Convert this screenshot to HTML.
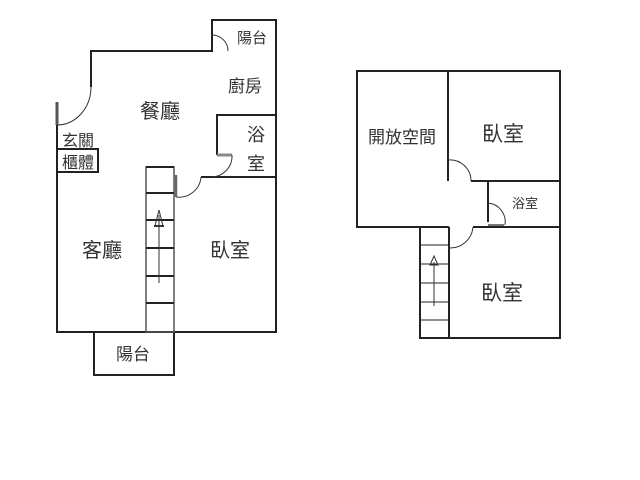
<!DOCTYPE html>
<html><head><meta charset="utf-8"><style>
html,body{margin:0;padding:0;background:#fff;width:640px;height:480px;overflow:hidden}
text{font-family:"Liberation Sans","Noto Sans CJK TC",sans-serif;fill:#333}
</style></head><body>
<svg width="640" height="480" viewBox="0 0 640 480" xmlns="http://www.w3.org/2000/svg">
<g fill="none" stroke="#222" stroke-width="2">
<!-- left plan outer -->
<polyline points="91,87 91,51 212,51 212,20 276,20 276,332 57,332 57,102"/>
<line x1="57" y1="102" x2="57" y2="125" stroke="#555" stroke-width="3"/>
<!-- bath -->
<polyline points="217,155 217,115 276,115"/>
<line x1="217" y1="155" x2="232" y2="155" stroke="#888" stroke-width="3"/>
<line x1="201" y1="177" x2="276" y2="177"/>
<!-- cabinet -->
<rect x="57" y="149" width="41" height="23"/>
<!-- bottom balcony -->
<polyline points="94,332 94,375 174,375 174,332"/>
<!-- stairs -->
<rect x="146" y="167" width="28" height="165" stroke="#555" stroke-width="1.5"/>
<line x1="146" y1="167" x2="174" y2="167"/>
<line x1="146" y1="193" x2="174" y2="193"/>
<line x1="146" y1="220" x2="174" y2="220"/>
<line x1="146" y1="248" x2="174" y2="248"/>
<line x1="146" y1="276" x2="174" y2="276"/>
<line x1="146" y1="303" x2="174" y2="303"/>
<!-- right plan -->
<polyline points="420,227 357,227 357,71 560,71 560,338 420,338 420,227"/>
<line x1="448" y1="71" x2="448" y2="181"/>
<line x1="471" y1="181" x2="560" y2="181"/>
<line x1="488" y1="181" x2="488" y2="222"/>
<line x1="473" y1="227" x2="560" y2="227"/>
<line x1="449" y1="227" x2="449" y2="338"/>
<line x1="420" y1="227" x2="449" y2="227"/>
<line x1="420" y1="245" x2="449" y2="245" stroke-width="1"/>
<line x1="420" y1="264" x2="449" y2="264" stroke-width="1"/>
<line x1="420" y1="283" x2="449" y2="283" stroke-width="1"/>
<line x1="420" y1="302" x2="449" y2="302" stroke-width="1"/>
<line x1="420" y1="320" x2="449" y2="320" stroke-width="1"/>
</g>
<g fill="none" stroke="#333" stroke-width="1">
<!-- door arcs -->
<path d="M212,35 A16,16 0 0 1 228,51"/>
<path d="M91,87 A34,38 0 0 1 57,125"/>
<path d="M232,155 A21,21 0 0 1 210,177"/>
<path d="M176,197 A22,22 0 0 0 201,177"/>
<line x1="176" y1="175" x2="176" y2="197" stroke-width="2.5" stroke="#666"/>
<path d="M448,160 A21,21 0 0 1 471,181"/>
<path d="M488,203 A19,19 0 0 1 505,225"/>
<line x1="488" y1="225" x2="504" y2="225" stroke-width="2" stroke="#777"/>
<path d="M449,248 A23,23 0 0 0 473,227"/>
<!-- arrows -->
<line x1="159" y1="283" x2="159" y2="215"/>
<path d="M155,226 L159,210 L163,226 Z"/>
<line x1="154" y1="226" x2="164" y2="226" stroke-width="2"/>
<line x1="434" y1="306" x2="434" y2="262"/>
<path d="M430,265 L434,256 L438,265 Z"/>
</g>
<g font-size="20" text-anchor="middle">
<text x="160" y="118">餐廳</text>
<text x="245" y="92" font-size="17">廚房</text>
<text x="256" y="141" font-size="18">浴</text>
<text x="256" y="170" font-size="18">室</text>
<text x="252" y="43" font-size="15">陽台</text>
<text x="78" y="146" font-size="16">玄關</text>
<text x="78" y="168" font-size="16">櫃體</text>
<text x="102" y="257">客廳</text>
<text x="230" y="257">臥室</text>
<text x="133" y="360" font-size="17">陽台</text>
<text x="402" y="143" font-size="17">開放空間</text>
<text x="503" y="141" font-size="21">臥室</text>
<text x="525" y="208" font-size="13">浴室</text>
<text x="502" y="300" font-size="21">臥室</text>
</g>
</svg>
</body></html>
